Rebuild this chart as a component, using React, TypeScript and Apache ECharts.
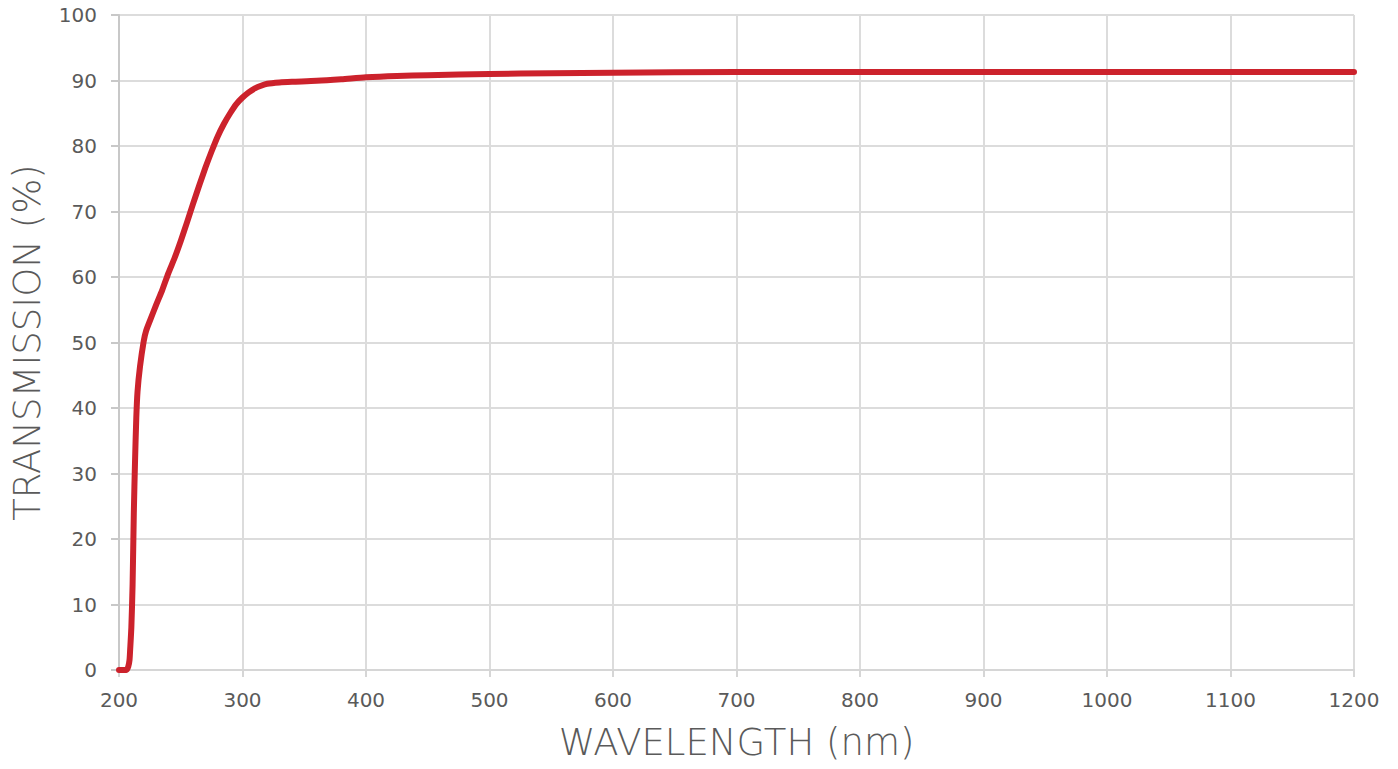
import React, { useEffect, useRef } from "react";
import * as echarts from "echarts";

const wavelengths = [
  200, 206, 207.5, 208.5, 209, 210, 211, 212, 213, 214, 215, 217, 220, 222, 225, 230, 235, 240,
  245, 250, 255, 260, 265, 270, 275, 280, 285, 290, 295, 300, 305, 310, 315, 320, 330, 340, 360,
  380, 400, 425, 450, 500, 550, 600, 700, 800, 900, 1000, 1100, 1200,
];
const transmission = [
  0, 0, 0.5, 1.5, 3, 6.5, 13, 24, 32, 38.5, 42.5, 46.3, 50.2, 51.8, 53.3, 55.7, 58, 60.6,
  62.9, 65.5, 68.3, 71.2, 74, 76.7, 79.2, 81.5, 83.4, 85, 86.4, 87.4, 88.2, 88.8, 89.2, 89.5, 89.7,
  89.8, 89.95, 90.2, 90.5, 90.7, 90.8, 91.0, 91.1, 91.2, 91.3, 91.3, 91.3, 91.3, 91.3, 91.3,
];
const xTicks = { min: 200, max: 1200, interval: 100 };
const yTicks = { min: 0, max: 100, interval: 10 };

const FONT = "'DejaVu Sans', sans-serif";
const TEXT = "#5a5a5a";

export default function App() {
  const ref = useRef<HTMLDivElement>(null);
  useEffect(() => {
    if (!ref.current) return;
    const chart = echarts.init(ref.current, undefined, { renderer: "svg" });
    chart.setOption({
      animation: false,
      backgroundColor: "#ffffff",
      grid: { left: 119, right: 44, top: 15, bottom: 99, containLabel: false },
      xAxis: {
        type: "value",
        min: xTicks.min,
        max: xTicks.max,
        interval: xTicks.interval,
        name: "WAVELENGTH (nm)",
        nameLocation: "middle",
        nameGap: 54,
        nameTextStyle: { fontFamily: FONT, fontSize: 37, color: TEXT, fontWeight: 300 },
        axisLine: { show: true, lineStyle: { color: "#d6d6d6", width: 2 } },
        axisTick: { show: true, length: 7, lineStyle: { color: "#d6d6d6", width: 2 } },
        axisLabel: {
          margin: 20,
          fontFamily: FONT,
          fontSize: 20,
          color: TEXT,
          formatter: (v: number) => String(v),
        },
        splitLine: { show: true, lineStyle: { color: "#dcdcdc", width: 2 } },
      },
      yAxis: {
        type: "value",
        min: yTicks.min,
        max: yTicks.max,
        interval: yTicks.interval,
        name: "TRANSMISSION (%)",
        nameLocation: "middle",
        nameGap: 73,
        nameTextStyle: { fontFamily: FONT, fontSize: 37, color: TEXT, fontWeight: 300 },
        axisLine: { show: true, lineStyle: { color: "#c8c8c8", width: 2 } },
        axisTick: { show: true, length: 8, lineStyle: { color: "#c8c8c8", width: 2 } },
        axisLabel: {
          margin: 22,
          fontFamily: FONT,
          fontSize: 20,
          color: TEXT,
          formatter: (v: number) => String(v),
        },
        splitLine: { show: true, lineStyle: { color: "#dcdcdc", width: 2 } },
      },
      series: [
        {
          type: "line",
          data: wavelengths.map((w, i) => [w, transmission[i]]),
          showSymbol: false,
          smooth: 0.25,
          lineStyle: { color: "#cc222c", width: 6, cap: "round", join: "round" },
          z: 3,
        },
      ],
    });
    return () => chart.dispose();
  }, []);
  return (
    <div
      ref={ref}
      style={{ position: "fixed", left: 0, top: 0, width: 1398, height: 769, background: "#fff" }}
    />
  );
}
